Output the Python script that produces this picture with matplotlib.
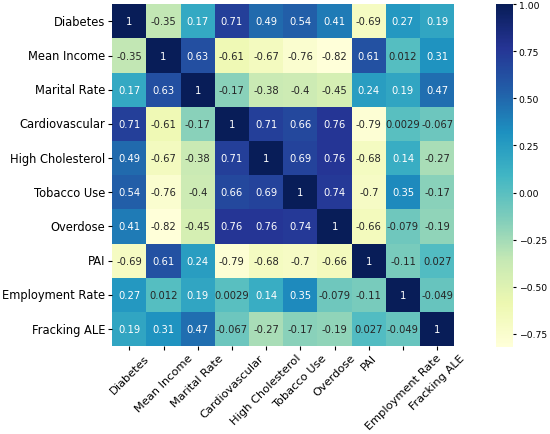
import matplotlib
matplotlib.use("Agg")
import matplotlib.pyplot as plt
import numpy as np
import pandas as pd
import seaborn as sns

labels = ["Diabetes", "Mean Income", "Marital Rate", "Cardiovascular",
          "High Cholesterol", "Tobacco Use", "Overdose", "PAI",
          "Employment Rate", "Fracking ALE"]

diabetes = [1, -0.35, 0.17, 0.71, 0.49, 0.54, 0.41, -0.69, 0.27, 0.19]
mean_income = [-0.35, 1, 0.63, -0.61, -0.67, -0.76, -0.82, 0.61, 0.012, 0.31]
marital_rate = [0.17, 0.63, 1, -0.17, -0.38, -0.4, -0.45, 0.24, 0.19, 0.47]
cardiovascular = [0.71, -0.61, -0.17, 1, 0.71, 0.66, 0.76, -0.79, 0.0029, -0.067]
high_chol = [0.49, -0.67, -0.38, 0.71, 1, 0.69, 0.76, -0.68, 0.14, -0.27]
tobacco = [0.54, -0.76, -0.4, 0.66, 0.69, 1, 0.74, -0.7, 0.35, -0.17]
overdose = [0.41, -0.82, -0.45, 0.76, 0.76, 0.74, 1, -0.66, -0.079, -0.19]
pai = [-0.69, 0.61, 0.24, -0.79, -0.68, -0.7, -0.66, 1, -0.11, 0.027]
employment = [0.27, 0.012, 0.19, 0.0029, 0.14, 0.35, -0.079, -0.11, 1, -0.049]
fracking = [0.19, 0.31, 0.47, -0.067, -0.27, -0.17, -0.19, 0.027, -0.049, 1]

corr = pd.DataFrame([diabetes, mean_income, marital_rate, cardiovascular,
                     high_chol, tobacco, overdose, pai, employment, fracking],
                    index=labels, columns=labels)

fig = plt.figure(figsize=(5.5, 4.35), dpi=100)
ax = fig.add_axes([0.204, 0.202, 0.622, 0.786])
cax = fig.add_axes([0.902, 0.200, 0.031, 0.788])

sns.heatmap(corr, annot=True, cmap="YlGnBu", ax=ax, cbar_ax=cax,
            annot_kws={"fontsize": 7.2})

ax.tick_params(axis="x", labelsize=8.2, rotation=45, length=2.9, pad=1.6)
ax.tick_params(axis="y", labelsize=8.3, rotation=0, length=2.9, pad=2.2)
cax.tick_params(labelsize=6.7, length=2.5, pad=1.6)

fig.savefig("out.png", dpi=100)
